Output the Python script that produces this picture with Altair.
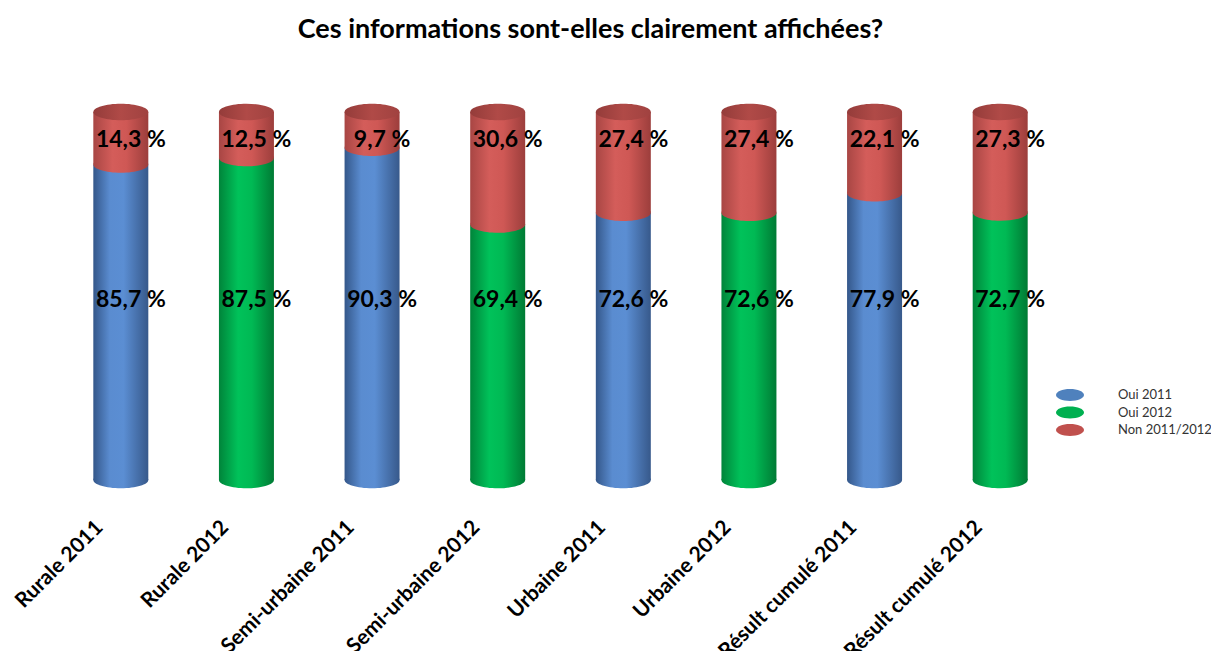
import altair as alt
import pandas as pd

categories = ["Rurale 2011", "Rurale 2012", "Semi-urbaine 2011", "Semi-urbaine 2012",
              "Urbaine 2011", "Urbaine 2012", "Résult cumulé 2011", "Résult cumulé 2012"]
oui_series = ["Oui 2011", "Oui 2012", "Oui 2011", "Oui 2012",
              "Oui 2011", "Oui 2012", "Oui 2011", "Oui 2012"]
oui_values = [85.7, 87.5, 90.3, 69.4, 72.6, 72.6, 77.9, 72.7]
non_values = [14.3, 12.5, 9.7, 30.6, 27.4, 27.4, 22.1, 27.3]
series_order = ["Oui 2011", "Oui 2012", "Non 2011/2012"]
series_colors = ["#4f81bd", "#00b050", "#c0504d"]

OUI_LABEL_Y = 48.9
NON_LABEL_Y = 92.4

def fmt(v):
    return f"{v:.1f}".replace(".", ",") + " %"

rows = []
for c, s, o, n in zip(categories, oui_series, oui_values, non_values):
    rows.append(dict(cat=c, series=s, start=0.0, end=o, label=fmt(o), ly=OUI_LABEL_Y))
    rows.append(dict(cat=c, series="Non 2011/2012", start=o, end=o + n, label=fmt(n), ly=NON_LABEL_Y))
df = pd.DataFrame(rows)

def grad(stops):
    return alt.Gradient(gradient="linear", x1=0, x2=1, y1=0, y2=0,
                        stops=[alt.GradientStop(offset=o, color=c) for o, c in stops])

blue_g = grad([(0, "#34578a"), (0.3, "#5a8cd0"), (0.55, "#5b8ed3"), (1, "#37598b")])
green_g = grad([(0, "#00843a"), (0.35, "#00c25a"), (0.6, "#00b954"), (1, "#007a34")])
red_g = grad([(0, "#a84644"), (0.35, "#d45d5a"), (0.6, "#cf5855"), (1, "#9c3e3c")])
redtop_g = grad([(0, "#943c3a"), (0.5, "#b04a47"), (1, "#a04240")])

ELL = "M -1 0 A 1 0.3 0 1 0 1 0 A 1 0.3 0 1 0 -1 0 Z"
LEG = "M -2 0 A 2 0.85 0 1 0 2 0 A 2 0.85 0 1 0 -2 0 Z"

x_enc = alt.X("cat:N", sort=categories,
              scale=alt.Scale(paddingInner=0, paddingOuter=0),
              axis=alt.Axis(title=None, domain=False, ticks=False, labelAngle=-45,
                            labelFont="Lato", labelFontSize=21, labelFontWeight="bold",
                            labelColor="black", labelPadding=44, labelOffset=-21,
                            labelAlign="right", labelBaseline="middle", labelLimit=400))
y_scale = alt.Scale(domain=[0, 100])

base = alt.Chart(df)

legend_layer = base.transform_filter(alt.datum.series != "Non 2011/2012").mark_point(
    shape=LEG, size=196, filled=True, opacity=1, strokeWidth=0).encode(
    x=x_enc,
    y=alt.Y("start:Q", scale=y_scale, axis=None),
    color=alt.Color("series:N", scale=alt.Scale(domain=series_order, range=series_colors),
                    legend=alt.Legend(title=None, orient="none", legendX=1005, legendY=276,
                                      labelFont="Lato", labelFontSize=13, labelColor="#333333",
                                      padding=0, rowPadding=3.5, labelOffset=41,
                                      symbolSize=196, symbolType=LEG, symbolStrokeWidth=0,
                                      symbolOpacity=1)))

def bars(series, g):
    return base.transform_filter(alt.datum.series == series).mark_bar(
        size=55, fill=g, strokeWidth=0).encode(
        x=x_enc, y=alt.Y("start:Q", scale=y_scale, axis=None), y2="end:Q")

def ell(series, g, field):
    return base.transform_filter(alt.datum.series == series).mark_point(
        shape=ELL, size=3025, filled=True, fill=g, opacity=1, strokeWidth=0).encode(
        x=x_enc, y=alt.Y(f"{field}:Q", scale=y_scale, axis=None))

labels = base.mark_text(font="Lato", fontSize=23, fontWeight="bold", color="black",
                        dx=10, align="center", baseline="middle").encode(
    x=x_enc, y=alt.Y("ly:Q", scale=y_scale, axis=None), text="label:N")

chart = alt.layer(
    legend_layer,
    bars("Oui 2011", blue_g), bars("Oui 2012", green_g),
    ell("Oui 2011", blue_g, "start"), ell("Oui 2012", green_g, "start"),
    bars("Non 2011/2012", red_g),
    ell("Non 2011/2012", red_g, "start"),
    ell("Non 2011/2012", redtop_g, "end"),
    labels,
).properties(
    width=1005, height=368,
    autosize=alt.AutoSizeParams(type="none"),
    padding={"left": 50, "top": 104, "right": 148, "bottom": 171},
    title=alt.TitleParams("Ces informations sont-elles clairement affichées?",
                          font="Lato", fontSize=27, fontWeight="bold", color="black",
                          anchor="middle", frame="group", dx=30, offset=60),
).configure_view(stroke=None)

chart.save("out.html", embed_options={"renderer": "svg", "actions": False})
